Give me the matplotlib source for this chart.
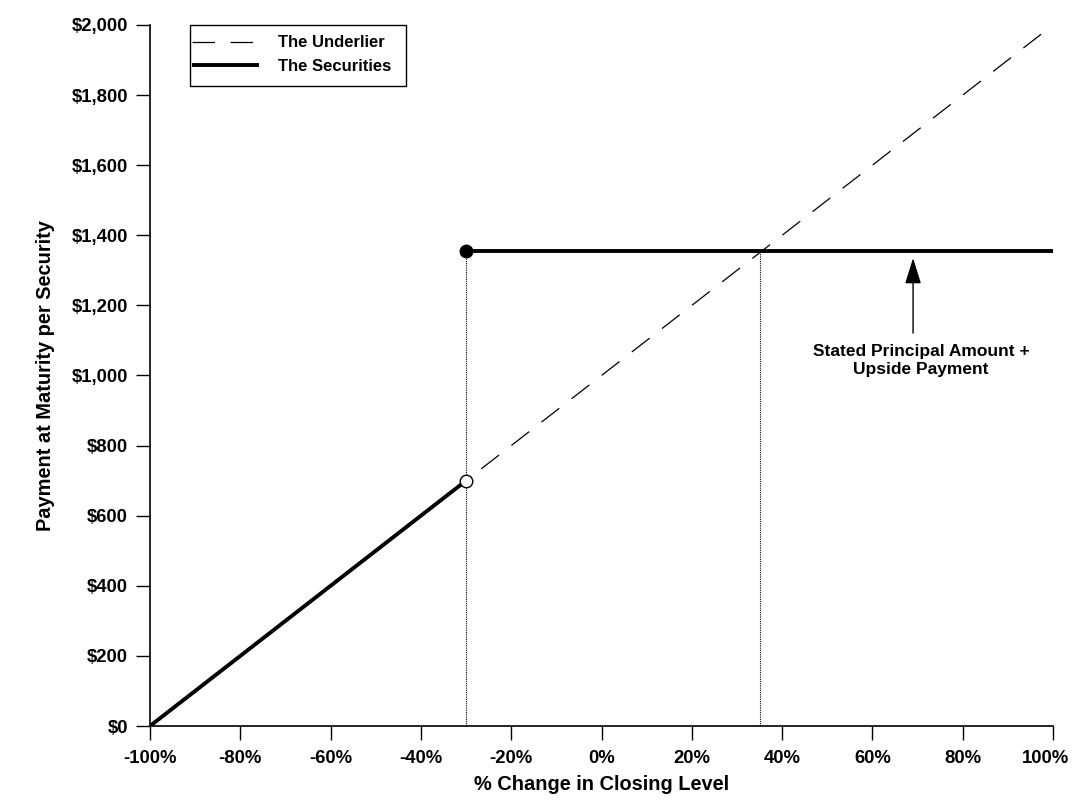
import matplotlib.pyplot as plt
import matplotlib.ticker as mticker
import matplotlib.transforms as mtransforms
from matplotlib.patches import Rectangle

plt.rcParams['font.family'] = ['Liberation Sans', 'DejaVu Sans']
plt.rcParams['font.weight'] = 'bold'

# data
underlier_x = [-100, 100]
underlier_y = [0, 2000]
low_x = [-100, -30]          # securities follow the underlier below the barrier
low_y = [0, 700]
cap_x = [-30, 100]           # capped payment above the barrier
cap_y = [1355, 1355]
barrier = -30
cross = 35
arrow_x = 69
arrow_from = 1121
arrow_to = 1335
note_x = 70.8
xticks = list(range(-100, 101, 20))
yticks = list(range(0, 2001, 200))

fig = plt.figure(figsize=(10.73, 8.11), dpi=100)
ax = fig.add_axes([0.1398, 0.1048, 0.8416, 0.8644])

ax.plot(underlier_x, underlier_y, color='black', lw=0.9, dashes=(18, 12.5),
        label='The Underlier', zorder=2)
ax.plot(low_x, low_y, color='black', lw=2.8, solid_capstyle='butt',
        label='The Securities', zorder=3)
ax.plot(cap_x, cap_y, color='black', lw=2.8, solid_capstyle='butt', zorder=3)

ax.plot([barrier, barrier], [0, cap_y[0]], color='black', lw=0.8, ls=(0, (1, 1)), zorder=1)
ax.plot([cross, cross], [0, cap_y[0]], color='black', lw=0.8, ls=(0, (1, 1)), zorder=1)

ax.plot(barrier, cap_y[0], 'o', color='black', ms=9, zorder=4)
ax.plot(barrier, low_y[1], 'o', mfc='white', mec='black', mew=1, ms=9, zorder=4)

ax.annotate('', xy=(arrow_x, arrow_to), xytext=(arrow_x, arrow_from),
            arrowprops=dict(arrowstyle='-|>,head_length=1.6,head_width=0.5',
                            mutation_scale=10, color='black', lw=1,
                            shrinkA=0, shrinkB=0))
ax.text(note_x, 1090, 'Stated Principal Amount +\nUpside Payment',
        ha='center', va='top', fontsize=12.5, fontweight='bold', linespacing=1.25)

ax.set_xlim(-100, 100)
ax.set_ylim(0, 2000)
ax.set_xticks(xticks)
ax.set_yticks(yticks)
ax.xaxis.set_major_formatter(mticker.FuncFormatter(lambda v, p: f'{v:.0f}%'))
ax.yaxis.set_major_formatter(mticker.FuncFormatter(lambda v, p: f'${v:,.0f}'))
ax.tick_params(axis='both', direction='out', length=10, width=1, labelsize=13.3)
ax.tick_params(axis='x', pad=7)
ax.tick_params(axis='y', pad=6)
for lab in ax.get_xticklabels() + ax.get_yticklabels():
    lab.set_fontweight('bold')
# the last x label sits a little left of its tick so it stays inside the picture
last = ax.get_xticklabels()[-1]
last.set_transform(last.get_transform() +
                   mtransforms.ScaledTranslation(-8 / 100, 0, fig.dpi_scale_trans))

ax.spines['top'].set_visible(False)
ax.spines['right'].set_visible(False)
ax.spines['left'].set_linewidth(1.2)
ax.spines['bottom'].set_linewidth(1.2)

ax.set_xlabel('% Change in Closing Level', fontsize=14.4, fontweight='bold', labelpad=6)
ax.set_ylabel('Payment at Maturity per Security', fontsize=14.4, fontweight='bold', labelpad=12)

# legend box drawn separately so the padding can match
ax.add_patch(Rectangle((0.0443, 0.913), 0.2392, 0.087, transform=ax.transAxes,
                       fill=True, facecolor='white', edgecolor='black', lw=1,
                       clip_on=False, zorder=5))
leg = ax.legend(loc='upper left', bbox_to_anchor=(0.047, 0.985), frameon=False,
                fontsize=12, handlelength=4.0, borderpad=0, borderaxespad=0,
                labelspacing=0.5, handletextpad=1.15)
leg.set_zorder(6)
for t in leg.get_texts():
    t.set_fontweight('bold')

fig.savefig('out.png', dpi=100)
